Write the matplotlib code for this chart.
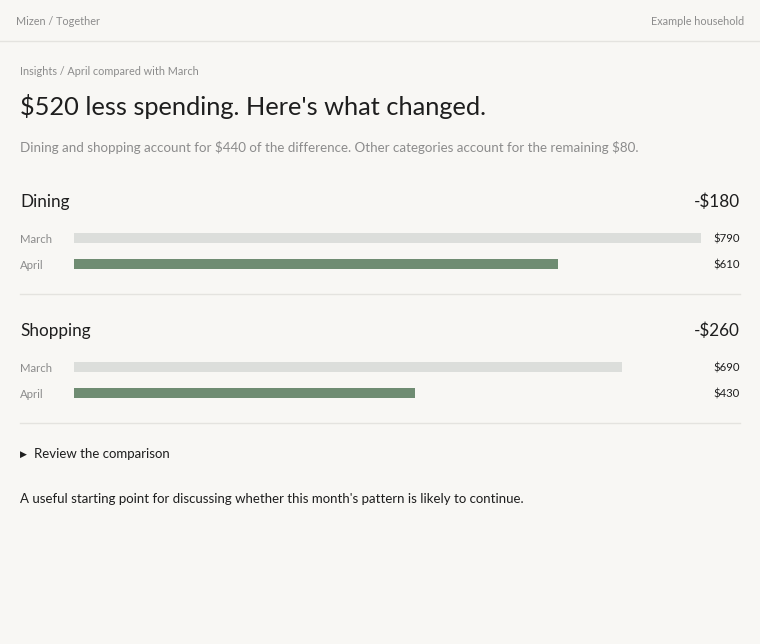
import matplotlib.pyplot as plt

categories = ["Dining", "Shopping"]
march = [790, 690]
april = [610, 430]
changes = ["-$180", "-$260"]

BG = "#f8f7f4"
TRACK = "#dcdedb"
GREEN = "#6f8c72"
DARK = "#1e1e1e"
GREY = "#8c8c8c"

plt.rcParams["font.family"] = ["Lato", "DejaVu Sans"]
plt.rcParams["text.parse_math"] = False

W, H = 760, 644
fig = plt.figure(figsize=(W / 100, H / 100), dpi=100, facecolor=BG)
ax = fig.add_axes([0, 0, 1, 1])
ax.set_xlim(0, W)
ax.set_ylim(H, 0)
ax.axis("off")

# header
ax.text(16, 21, "Mizen / Together", fontsize=7.8, color=GREY, va="center")
ax.text(744, 21, "Example household", fontsize=7.8, color=GREY, va="center", ha="right")
ax.axhline(41, color="#e4e3df", lw=1)

ax.text(20, 71, "Insights / April compared with March", fontsize=7.8, color=GREY, va="center")
ax.text(20, 106, "$520 less spending. Here's what changed.", fontsize=18.3, color=DARK, va="center")
ax.text(20, 147, "Dining and shopping account for $440 of the difference. "
        "Other categories account for the remaining $80.", fontsize=9.6, color=GREY, va="center")

# bar area: x pixels 74..701 map to $0..$790
bx0, bx1 = 74, 701
bar_ax = fig.add_axes([bx0 / W, 0, (bx1 - bx0) / W, 1])
bar_ax.set_xlim(0, max(march))
bar_ax.set_ylim(H, 0)
bar_ax.axis("off")
bar_ax.patch.set_alpha(0)

top = 201
for i, cat in enumerate(categories):
    y = top + i * 129
    ax.text(20, y + 1, cat, fontsize=12.3, color=DARK, va="center")
    ax.text(740, y + 1, changes[i], fontsize=12.3, color=DARK, va="center", ha="right")
    rows = [("March", march[i], TRACK, y + 37), ("April", april[i], GREEN, y + 63)]
    for label, val, col, yy in rows:
        ax.text(20, yy + 1, label, fontsize=8.2, color=GREY, va="center")
        ax.text(740, yy + 1, f"${val}", fontsize=8.2, color=DARK, va="center", ha="right")
        bar_ax.barh(yy, val, height=10, color=col, left=0)
    ax.axhline(y + 93, xmin=20 / W, xmax=740 / W, color="#e4e3df", lw=1)

ax.text(20, 454, "\u25B6", fontsize=6.5, color=DARK, va="center")
ax.text(34, 454, "Review the comparison", fontsize=9.5, color=DARK, va="center")
ax.text(20, 499, "A useful starting point for discussing whether this month's pattern "
        "is likely to continue.", fontsize=9.5, color=DARK, va="center")

fig.savefig("out.png", dpi=100, facecolor=BG)
